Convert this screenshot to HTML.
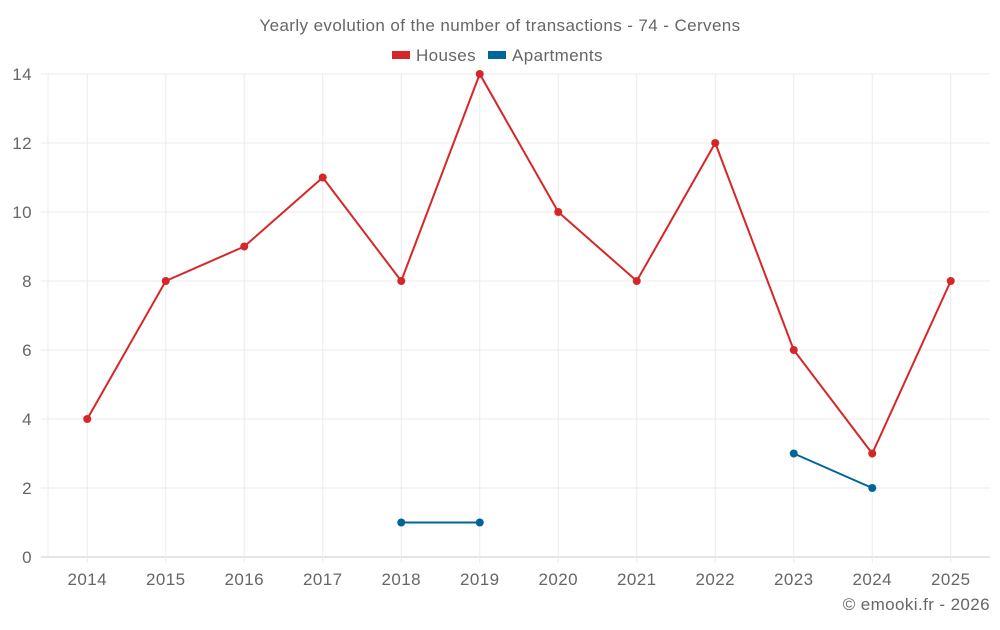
<!DOCTYPE html>
<html><head><meta charset="utf-8"><style>
body{margin:0;background:#fff;font-family:"Liberation Sans",sans-serif}
svg text{font-family:"Liberation Sans",sans-serif;fill:#666;letter-spacing:0.4px}
</style></head><body>
<svg id="c" width="1000" height="625">
<text x="500" y="31" text-anchor="middle" font-size="17">Yearly evolution of the number of transactions - 74 - Cervens</text>
<g><rect x="392" y="51" width="18" height="8" fill="#d62728"/><text x="416" y="61" font-size="17">Houses</text></g>
<g><rect x="488" y="51" width="18" height="8" fill="#006699"/><text x="512" y="61" font-size="17">Apartments</text></g>
<g id="grid"></g><g id="marks"></g>
<text x="990" y="610" text-anchor="end" font-size="17">© emooki.fr - 2026</text>
</svg>
<script>
const years=["2014","2015","2016","2017","2018","2019","2020","2021","2022","2023","2024","2025"];
const houses=[4,8,9,11,8,14,10,8,12,6,3,8];
const apartments=[null,null,null,null,1,1,null,null,null,3,2,null];
const yTicks=[0,2,4,6,8,10,12,14];
const NS="http://www.w3.org/2000/svg";
const L=48,R=990,T=74,B=557,yMax=14;
const bw=(R-L)/years.length;
const x=i=>L+(i+0.5)*bw;
const y=v=>B-(v/yMax)*(B-T);
function mk(tag,attrs,parent){const e=document.createElementNS(NS,tag);for(const k in attrs)e.setAttribute(k,attrs[k]);parent.appendChild(e);return e;}
const g=document.getElementById('grid'),m=document.getElementById('marks');
yTicks.forEach(t=>{
 const l=mk('line',{x1:41,x2:R,y1:y(t),y2:y(t),stroke:t===0?'#ccc':'#ebebeb'},g);
 
 
 const tx=mk('text',{x:32,y:y(t)+6,'text-anchor':'end','font-size':17},g);tx.textContent=t;
 
 
});
mk('line',{x1:L,x2:L,y1:T,y2:B,stroke:'#ebebeb'},g);
years.forEach((yr,i)=>{
 const l=mk('line',{x1:x(i),x2:x(i),y1:T,y2:B+6,stroke:'#ebebeb'},g);
 
 
 const tx=mk('text',{x:x(i),y:585,'text-anchor':'middle','font-size':17},g);tx.textContent=yr;
 
 
});
function series(vals,color,name){
 let seg=[];
 const flush=()=>{if(seg.length>1){const p=mk('polyline',{points:seg.join(' '),fill:'none',stroke:color,'stroke-width':2},m);
  
  }seg=[];};
 vals.forEach((v,i)=>{if(v==null){flush();return;}seg.push(x(i)+','+y(v));});flush();
 vals.forEach((v,i)=>{if(v==null)return;const c=mk('circle',{cx:x(i),cy:y(v),r:4,fill:color},m);
  
  });
}
series(houses,'#d62728','houses');
series(apartments,'#006699','apartments');
</script>
</body></html>
